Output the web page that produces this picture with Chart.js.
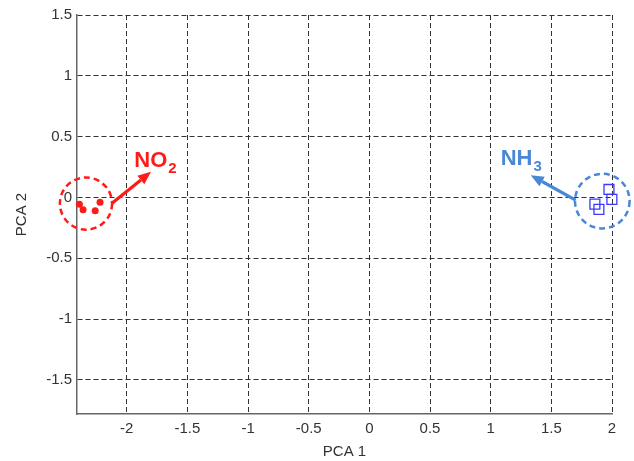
<!DOCTYPE html>
<html>
<head>
<meta charset="utf-8">
<script src="https://cdn.jsdelivr.net/npm/chart.js@4/dist/chart.umd.min.js"></script>
<style>
  html, body { margin: 0; padding: 0; background: #fff; }
  #wrap { width: 634px; height: 461px; position: relative; }
</style>
</head>
<body>
<div id="wrap"><canvas id="pcaChart"></canvas></div>
<script>
// tick labels
var xTicks = [-2, -1.5, -1, -0.5, 0, 0.5, 1, 1.5, 2];
var yTicks = [-1.5, -1, -0.5, 0, 0.5, 1, 1.5];

// scores
var no2X = [-2.39, -2.36, -2.26, -2.22];
var no2Y = [-0.055, -0.10, -0.11, -0.04];
var nh3X = [1.975, 1.999, 1.859, 1.892];
var nh3Y = [0.066, -0.016, -0.055, -0.098];

// annotations (data units)
var no2Circle = [-2.336, -0.05, 0.215];
var nh3Circle = [1.92, -0.03, 0.225];
var no2Arrow = [-2.124, -0.049, -1.80, 0.211];
var nh3Arrow = [1.70, -0.022, 1.33, 0.183];
var no2Label = [-1.938, 0.251];
var nh3Label = [1.082, 0.265];

var RED = '#ff1a1a';
var BLUE = '#4a88d6';

function toPoints(xs, ys) {
    return xs.map(function (x, i) { return { x: x, y: ys[i] }; });
}

function drawArrow(ctx, x1, y1, x2, y2, color) {
    var ang = Math.atan2(y2 - y1, x2 - x1);
    var head = 13, half = 5.5;
    var bx = x2 - Math.cos(ang) * head, by = y2 - Math.sin(ang) * head;
    ctx.strokeStyle = color;
    ctx.fillStyle = color;
    ctx.lineWidth = 3.2;
    ctx.setLineDash([]);
    ctx.beginPath();
    ctx.moveTo(x1, y1);
    ctx.lineTo(bx, by);
    ctx.stroke();
    ctx.beginPath();
    ctx.moveTo(x2, y2);
    ctx.lineTo(bx + Math.sin(ang) * half, by - Math.cos(ang) * half);
    ctx.lineTo(bx - Math.sin(ang) * half, by + Math.cos(ang) * half);
    ctx.closePath();
    ctx.fill();
}

function drawLabel(ctx, x, y, main, sub, color) {
    ctx.fillStyle = color;
    ctx.textBaseline = 'alphabetic';
    ctx.textAlign = 'left';
    ctx.font = 'bold 22px "Liberation Sans", Arial, sans-serif';
    ctx.fillText(main, x, y);
    var w = ctx.measureText(main).width;
    ctx.font = 'bold 15px "Liberation Sans", Arial, sans-serif';
    ctx.fillText(sub, x + w + 1, y + 6);
}

var annotatePlugin = {
    id: 'annotate',
    afterDatasetsDraw: function (chart) {
        var ctx = chart.ctx, xs = chart.scales.x, ys = chart.scales.y;
        ctx.save();
        [[no2Circle, RED], [nh3Circle, BLUE]].forEach(function (c) {
            var cx = xs.getPixelForValue(c[0][0]);
            var cy = ys.getPixelForValue(c[0][1]);
            var r = xs.getPixelForValue(c[0][0] + c[0][2]) - cx;
            ctx.strokeStyle = c[1];
            ctx.lineWidth = 2.5;
            ctx.setLineDash([6, 4]);
            ctx.beginPath();
            ctx.arc(cx, cy, r, 0, Math.PI * 2);
            ctx.stroke();
        });
        [[no2Arrow, RED], [nh3Arrow, BLUE]].forEach(function (a) {
            drawArrow(ctx,
                xs.getPixelForValue(a[0][0]), ys.getPixelForValue(a[0][1]),
                xs.getPixelForValue(a[0][2]), ys.getPixelForValue(a[0][3]), a[1]);
        });
        drawLabel(ctx, xs.getPixelForValue(no2Label[0]), ys.getPixelForValue(no2Label[1]), 'NO', '2', RED);
        drawLabel(ctx, xs.getPixelForValue(nh3Label[0]), ys.getPixelForValue(nh3Label[1]), 'NH', '3', BLUE);
        ctx.restore();
    }
};

var tickFont = { family: '"Liberation Sans", Arial, sans-serif', size: 15 };

function plainLabel(value) { return String(value); }

new Chart(document.getElementById('pcaChart'), {
    type: 'scatter',
    data: {
        datasets: [
            {
                label: 'NO2',
                data: toPoints(no2X, no2Y),
                pointStyle: 'circle',
                pointRadius: 3.5,
                backgroundColor: RED,
                borderColor: RED,
                borderWidth: 0,
                clip: false
            },
            {
                label: 'NH3',
                data: toPoints(nh3X, nh3Y),
                pointStyle: 'rect',
                pointRadius: 7,
                backgroundColor: 'rgba(0,0,0,0)',
                borderColor: '#3a3aff',
                borderWidth: 1.3,
                clip: false
            }
        ]
    },
    options: {
        responsive: true,
        maintainAspectRatio: false,
        animation: false,
        layout: { padding: { left: 0, right: 22, top: 15, bottom: 0 } },
        plugins: { legend: { display: false }, tooltip: { enabled: false } },
        scales: {
            x: {
                type: 'linear',
                min: -2.41,
                max: 2,
                afterBuildTicks: function (scale) {
                    scale.ticks = xTicks.map(function (v) { return { value: v }; });
                },
                afterFit: function (scale) { scale.height = 47; },
                ticks: { font: tickFont, color: '#333', padding: 6, maxRotation: 0, autoSkip: false, callback: plainLabel },
                grid: { color: '#333', lineWidth: 1, drawTicks: false },
                border: { display: true, color: '#666', width: 1.5, dash: [5, 3] },
                title: {
                    display: true, text: 'PCA 1', color: '#333',
                    font: tickFont, padding: { top: 0, bottom: 0 }
                }
            },
            y: {
                type: 'linear',
                min: -1.78,
                max: 1.5,
                afterBuildTicks: function (scale) {
                    scale.ticks = yTicks.map(function (v) { return { value: v }; });
                },
                afterFit: function (scale) { scale.width = 77; },
                ticks: { font: tickFont, color: '#333', padding: 5, autoSkip: false, callback: plainLabel },
                grid: { color: '#333', lineWidth: 1, drawTicks: false },
                border: { display: true, color: '#666', width: 1.5, dash: [5, 3] },
                title: {
                    display: true, text: 'PCA 2', color: '#333',
                    font: tickFont, padding: { top: 13, bottom: 0 }
                }
            }
        }
    },
    plugins: [annotatePlugin]
});
</script>
</body>
</html>
